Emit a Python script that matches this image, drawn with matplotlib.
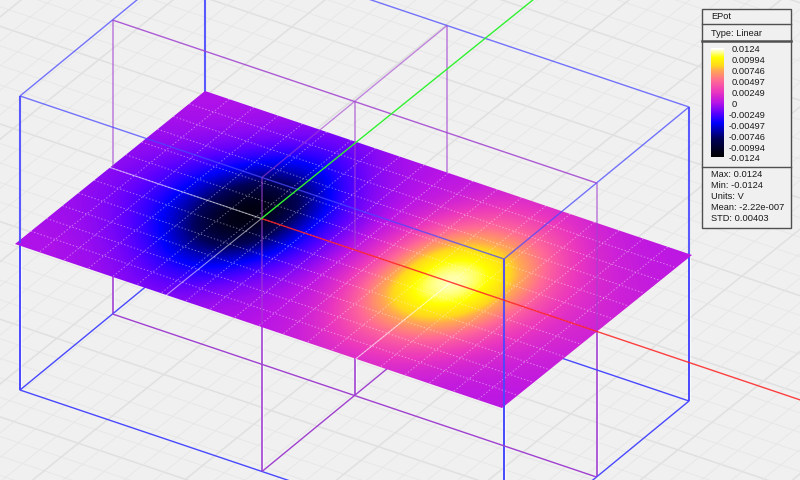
import numpy as np
import matplotlib
matplotlib.use('Agg')
import matplotlib.pyplot as plt
from matplotlib.colors import LinearSegmentedColormap
from matplotlib.patches import Polygon, Rectangle
from matplotlib.transforms import Affine2D

# panel texts
PANEL_TITLE = 'EPot'
PANEL_TYPE = 'Type: Linear'
LEGEND_VALUES = [0.0124, 0.00994, 0.00746, 0.00497, 0.00249, 0, -0.00249, -0.00497, -0.00746, -0.00994, -0.0124]
LEGEND_LABELS = ['0.0124', '0.00994', '0.00746', '0.00497', '0.00249', '0', '-0.00249', '-0.00497', '-0.00746', '-0.00994', '-0.0124']
STATS = ['Max: 0.0124', 'Min: -0.0124', 'Units: V', 'Mean: -2.22e-007', 'STD: 0.00403']

# colour bar stops, value and colour
CMAP_VALUES = [-0.0124, -0.0083, -0.0047, -0.0025, 0, 0.0025, 0.005, 0.0075, 0.0085, 0.0104, 0.0124]
CMAP_COLORS = ['#000000', '#00005a', '#0000ff', '#5a00ff', '#b914e6', '#eb37be', '#ff6996', '#ffaa50', '#ffd71e', '#ffff00', '#ffffff']

# potential, in mV, rows run across the sheet, columns along it
EPOT_MV = np.array([
    [-0.2, -0.2, -0.4, -0.6, -1.0, -1.4, -1.5, -1.1, -0.5, -0.2, 0.0, 0.4, 1.0, 1.5, 1.6, 1.5, 1.0, 0.6, 0.3, 0.2, 0.1],
    [-0.3, -0.4, -0.7, -1.2, -1.9, -2.8, -3.0, -2.2, -1.1, -0.5, 0.1, 0.8, 2.0, 3.1, 3.3, 3.1, 2.2, 1.2, 0.7, 0.4, 0.3],
    [-0.5, -0.8, -1.3, -2.1, -3.4, -4.9, -5.2, -3.8, -1.9, -0.8, 0.1, 1.4, 3.5, 5.3, 5.8, 5.3, 3.8, 2.1, 1.2, 0.7, 0.5],
    [-0.8, -1.2, -2.0, -3.4, -5.4, -7.9, -8.4, -6.1, -3.1, -1.4, 0.2, 2.2, 5.4, 8.1, 8.9, 8.1, 5.8, 3.2, 1.8, 1.1, 0.7],
    [-1.0, -1.7, -2.8, -4.6, -7.4, -10.8, -11.5, -8.4, -4.2, -1.9, 0.3, 2.8, 7.0, 10.5, 11.5, 10.5, 7.4, 4.2, 2.3, 1.4, 0.9],
    [-1.1, -1.8, -3.0, -5.0, -8.0, -11.6, -12.4, -9.0, -4.5, -2.0, 0.3, 3.0, 7.5, 11.3, 12.4, 11.3, 8.0, 4.5, 2.5, 1.5, 1.0],
    [-1.0, -1.7, -2.8, -4.6, -7.4, -10.8, -11.5, -8.4, -4.2, -1.9, 0.3, 2.8, 7.0, 10.5, 11.5, 10.5, 7.4, 4.2, 2.3, 1.4, 0.9],
    [-0.8, -1.2, -2.0, -3.4, -5.4, -7.9, -8.4, -6.1, -3.1, -1.4, 0.2, 2.2, 5.4, 8.1, 8.9, 8.1, 5.8, 3.2, 1.8, 1.1, 0.7],
    [-0.5, -0.8, -1.3, -2.1, -3.4, -4.9, -5.2, -3.8, -1.9, -0.8, 0.1, 1.4, 3.5, 5.3, 5.8, 5.3, 3.8, 2.1, 1.2, 0.7, 0.5],
    [-0.3, -0.4, -0.7, -1.2, -1.9, -2.8, -3.0, -2.2, -1.1, -0.5, 0.1, 0.8, 2.0, 3.1, 3.3, 3.1, 2.2, 1.2, 0.7, 0.4, 0.3],
    [-0.2, -0.2, -0.4, -0.6, -1.0, -1.4, -1.5, -1.1, -0.5, -0.2, 0.0, 0.4, 1.0, 1.5, 1.6, 1.5, 1.0, 0.6, 0.3, 0.2, 0.1],
])

# oblique view, screen pixels per unit
SHEET_O, SHEET_U, SHEET_V = (205, 92), (487, 164), (-190, 153)
BOX_O, BOX_U, BOX_V = (205, 92), (484, 163), (-185, 152)
BOX_Z = 147
AXIS_U, AXIS_V = 0.311, 0.5
BLUE = '#4848ff'
PURPLE = '#a040d0'


def sheet_xy(u, v):
	return SHEET_O[0] + np.asarray(u)*SHEET_U[0] + np.asarray(v)*SHEET_V[0], \
		SHEET_O[1] + np.asarray(u)*SHEET_U[1] + np.asarray(v)*SHEET_V[1]


def box_xy(u, v, z):
	return BOX_O[0] + np.asarray(u)*BOX_U[0] + np.asarray(v)*BOX_V[0], \
		BOX_O[1] + np.asarray(u)*BOX_U[1] + np.asarray(v)*BOX_V[1] - np.asarray(z)*BOX_Z


def wire(ax, us, vs, zs, color, lw=1.0, alpha=1.0, halo=False, zorder=2):
	x, y = box_xy(us, vs, zs)
	if halo:
		ax.plot(x, y, color='white', lw=2.4, alpha=0.6, zorder=zorder, solid_capstyle='butt')
	ax.plot(x, y, color=color, lw=lw, alpha=alpha, zorder=zorder, solid_capstyle='butt')


fig = plt.figure(figsize=(8, 4.81), dpi=100, facecolor='#f0f0f0')
ax = fig.add_axes([0, 0, 1, 1])
ax.set_facecolor('#f0f0f0')
plt.rcParams['font.family'] = ['Liberation Sans', 'DejaVu Sans']

# floor grid
for k in np.arange(-40, 41):
	major = k % 5 == 0
	x, y = sheet_xy([-4, 4], [k*0.09 + 0.02, k*0.09 + 0.02])
	ax.plot(x, y, color='#e0e0e0' if major else '#e6e6e6', lw=1.1 if major else 0.6, zorder=1)
for k in np.arange(-90, 91):
	major = k % 5 == 0
	x, y = sheet_xy([k*0.044 + 0.01, k*0.044 + 0.01], [-4, 4])
	ax.plot(x, y, color='#e0e0e0' if major else '#e6e6e6', lw=1.1 if major else 0.6, zorder=1)

# lower half of the wires, the sheet hides these
for u, v in [(0, 0), (1, 0), (0, 1), (1, 1)]:
	wire(ax, [u, u], [v, v], [0, -1], BLUE, lw=1.4, halo=True)
for u, v in [(0, 0.5), (1, 0.5), (0.5, 1), (0.5, 0.5), (0.5, 0)]:
	wire(ax, [u, u], [v, v], [0, -1], PURPLE, lw=1.2, halo=True)
wire(ax, [0, 1, 1, 0, 0], [0, 0, 1, 1, 0], [-1, -1, -1, -1, -1], BLUE)
wire(ax, [0, 1], [0.5, 0.5], [-1, -1], PURPLE)
wire(ax, [0.5, 0.5], [0, 1], [-1, -1], PURPLE)

# the sheet
cmap = LinearSegmentedColormap.from_list('epot', [((v + 0.0124)/0.0248, c) for v, c in zip(CMAP_VALUES, CMAP_COLORS)])
sheet_tf = Affine2D.from_values(SHEET_U[0], SHEET_U[1], SHEET_V[0], SHEET_V[1], SHEET_O[0], SHEET_O[1]) + ax.transData
im = ax.imshow(EPOT_MV/1000.0, cmap=cmap, vmin=-0.0124, vmax=0.0124, origin='lower', aspect='auto',
	extent=(-0.025, 1.025, -0.05, 1.05), interpolation='bicubic', transform=sheet_tf, zorder=3)
corners = np.array(sheet_xy([0, 1, 1, 0], [0, 0, 1, 1])).T
clip = Polygon(corners, closed=True, transform=ax.transData)
im.set_clip_path(clip)

# dotted mesh on the sheet
for u in np.linspace(0, 1, 21)[1:-1]:
	x, y = sheet_xy([u, u], [0, 1])
	ax.plot(x, y, color='white', lw=0.7, alpha=0.42, ls=(0, (1.5, 2)), zorder=4)
for v in np.linspace(0, 1, 13)[1:-1]:
	x, y = sheet_xy([0, 1], [v, v])
	ax.plot(x, y, color='white', lw=0.7, alpha=0.42, ls=(0, (1.5, 2)), zorder=4)
for u0, v0, u1, v1 in [(0, AXIS_V, AXIS_U, AXIS_V), (AXIS_U, AXIS_V, AXIS_U, 1), (0.7, AXIS_V, 0.7, 1)]:
	x, y = sheet_xy([u0, u1], [v0, v1])
	ax.plot(x, y, color='white', lw=0.8, alpha=0.55, zorder=4)

# upper half of the wires, in front of the sheet
for u, v in [(0, 0), (1, 0), (0, 1), (1, 1)]:
	wire(ax, [u, u], [v, v], [0, 1], BLUE, lw=1.5, alpha=0.9, zorder=5)
for u, v in [(0, 0.5), (1, 0.5), (0.5, 1), (0.5, 0.5), (0.5, 0)]:
	wire(ax, [u, u], [v, v], [0, 1], PURPLE, lw=1.2, alpha=0.6, zorder=5)
wire(ax, [0, 1, 1, 0, 0], [0, 0, 1, 1, 0], [1, 1, 1, 1, 1], BLUE, alpha=0.75, zorder=5)
wire(ax, [0, 1], [0.5, 0.5], [1, 1], PURPLE, alpha=0.85, zorder=5)
wire(ax, [0.5, 0.5], [0, 1], [1, 1], PURPLE, alpha=0.6, zorder=5)

# coordinate axes
x, y = sheet_xy([AXIS_U, AXIS_U + 1.2], [AXIS_V, AXIS_V])
ax.plot(x, y, color='#ff2020', lw=1.0, alpha=0.85, zorder=6)
x, y = sheet_xy([AXIS_U, AXIS_U], [AXIS_V, AXIS_V - 1.5])
ax.plot(x, y, color='#30f030', lw=1.0, zorder=6)

# legend panel
ax.add_patch(Rectangle((701.5, 9.5), 89, 219, fc='#f0f0f0', ec='#505050', lw=1.0, zorder=8))
for yy, lw in [(24.5, 1.0), (41.5, 1.8), (167.5, 1.0)]:
	ax.plot([701.5, 790.5], [yy, yy], color='#505050', lw=lw, zorder=9)
grad = np.linspace(0.0124, -0.0124, 110).reshape(-1, 1)
ax.imshow(grad, cmap=cmap, vmin=-0.0124, vmax=0.0124, aspect='auto', extent=(711, 724, 158, 49), origin='upper', zorder=9)
TXT = dict(fontsize=6.7, color='#1a1a1a', va='center', ha='left', zorder=10)
ax.text(711, 16.5, PANEL_TITLE, **TXT)
ax.text(711, 33, PANEL_TYPE, **TXT)
for i, (val, lab) in enumerate(zip(LEGEND_VALUES, LEGEND_LABELS)):
	ax.text(729 if val < 0 else 732, 50 + i*10.9, lab, **TXT)
for i, s in enumerate(STATS):
	ax.text(711, 175 + i*10.8, s, **TXT)

ax.set_xlim(0, 800)
ax.set_ylim(481, 0)
ax.axis('off')
fig.savefig('out.png', dpi=100, facecolor=fig.get_facecolor())
